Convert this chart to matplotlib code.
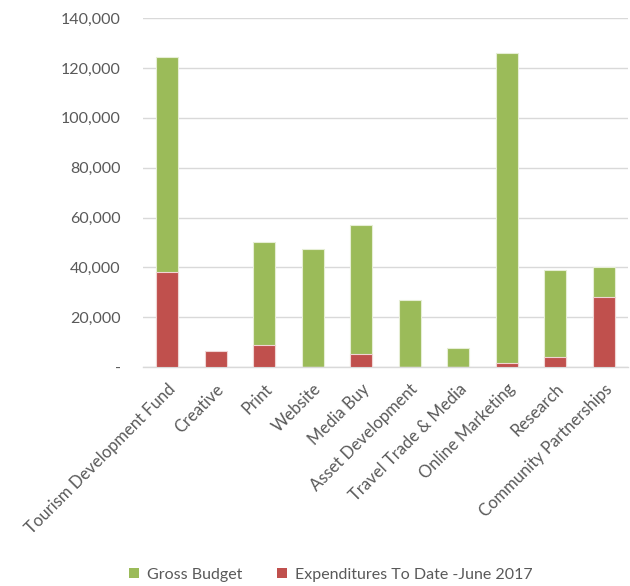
import matplotlib
matplotlib.use("Agg")
import matplotlib.pyplot as plt
from matplotlib.ticker import FuncFormatter
from matplotlib.patches import Patch

categories = ["Tourism Development Fund", "Creative", "Print", "Website", "Media Buy",
              "Asset Development", "Travel Trade & Media", "Online Marketing",
              "Research", "Community Partnerships"]
gross_budget = [124600, 0, 50000, 47500, 56800, 26900, 7600, 126000, 38800, 40000]
expenditures = [38100, 6400, 8800, 0, 5200, 0, 0, 1600, 4000, 28200]
yticks = [0, 20000, 40000, 60000, 80000, 100000, 120000, 140000]

plt.rcParams['font.family'] = ['Lato', 'DejaVu Sans']
txt = '#595959'
green = '#9BBB59'
red = '#C0504D'

fig = plt.figure(figsize=(6.3, 5.86), dpi=100)
ax = fig.add_axes([0.227, 0.3737, 0.770, 0.5953])

x = list(range(len(categories)))
w = 0.45
ax.bar(x, gross_budget, width=w, color=green, edgecolor='#E6EED5', linewidth=0.8, zorder=2)
ax.bar(x, expenditures, width=w, color=red, edgecolor='#F0D5D4', linewidth=0.8, zorder=3)

ax.set_ylim(0, 140000)
ax.set_xlim(-0.5, len(categories) - 0.5)
ax.set_yticks(yticks)
ax.yaxis.set_major_formatter(FuncFormatter(lambda v, p: '-' if v == 0 else f'{int(v):,}'))
ax.grid(axis='y', color='#D9D9D9', linewidth=1.0, zorder=0)
ax.set_axisbelow(True)
for s in ['top', 'right', 'left']:
    ax.spines[s].set_visible(False)
ax.spines['bottom'].set_color('#D9D9D9')
ax.spines['bottom'].set_linewidth(1.0)
ax.tick_params(axis='both', length=0, colors=txt)
ax.tick_params(axis='y', pad=16, labelsize=11.5)
ax.set_xticks(x)
ax.set_xticklabels(categories, rotation=45, ha='right', rotation_mode='anchor', color=txt, fontsize=12)
ax.tick_params(axis='x', pad=10)

handles = [Patch(facecolor=green, label='Gross Budget'),
           Patch(facecolor=red, label='Expenditures To Date -June 2017')]
fig.legend(handles=handles, loc='center', bbox_to_anchor=(0.525, 0.019), ncol=2, frameon=False,
           fontsize=11.5, labelcolor=txt, handlelength=0.6, handleheight=0.6,
           handletextpad=0.5, columnspacing=2.2)

fig.savefig('out.png', dpi=100)
